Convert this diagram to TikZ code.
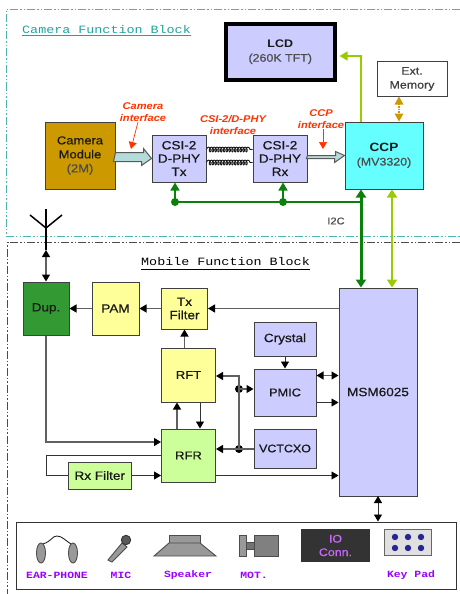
\documentclass[tikz,border=0pt]{standalone}
\usepackage{fontspec}
\setmainfont[FakeStretch=1.13,UprightFeatures={FakeBold=0.6}]{Liberation Sans}
\setmonofont[FakeStretch=1.2]{Liberation Mono}
\usetikzlibrary{arrows.meta,decorations.pathmorphing}
\definecolor{boxblue}{HTML}{CCCCFF}
\definecolor{boxyel}{HTML}{FFFF99}
\definecolor{boxgrn}{HTML}{CCFF99}
\definecolor{dupgrn}{HTML}{339933}
\definecolor{camgold}{HTML}{CC9900}
\definecolor{ccpcyan}{HTML}{66FFFF}
\definecolor{wire}{HTML}{606060}
\definecolor{dkgrn}{HTML}{0B800B}
\definecolor{ltgrn}{HTML}{99CC00}
\definecolor{teal1}{HTML}{1FA3A0}
\definecolor{redlab}{HTML}{FF3300}
\definecolor{purp}{HTML}{9900FF}
\definecolor{fatfill}{HTML}{B5DADA}
\definecolor{icongray}{HTML}{999999}
\definecolor{iotxt}{HTML}{CC66FF}
\newcommand{\blk}[7]{\node[blockbox,#6,minimum width=(#4-#2)*1pt,minimum height=(#5-#3)*1pt] (#1) at ({(#2+#4)/2},{(#3+#5)/2}) {#7};}
\tikzset{
  mytip/.tip={Triangle[length=7pt,width=8pt,black]},
  blockbox/.style={draw=black!75,line width=1pt,inner sep=0pt,align=center,text=black!90,font=\fontsize{12}{13.3}\selectfont},
  wr/.style={draw=wire,line width=1.3pt},
  ar/.style={wr,-{mytip}},
  ard/.style={wr,{mytip}-{mytip}},
  thinw/.style={draw=black!80,line width=0.9pt},
  tar/.style={thinw,-{mytip}},
  dot/.style={circle,fill=black,inner sep=0pt,minimum size=8pt},
  gdot/.style={circle,fill=dkgrn,inner sep=0pt,minimum size=8pt},
  redtxt/.style={text=redlab,font=\fontsize{9.8}{12}\selectfont\itshape\bfseries,align=center,inner sep=0pt},
  monolab/.style={font=\ttfamily\bfseries\fontsize{9.5}{12}\selectfont,text=purp,inner sep=0pt},
  title/.style={font=\ttfamily\fontsize{11.15}{14}\selectfont,inner sep=0pt},
  redar/.style={draw=redlab,line width=0.7pt,-{Triangle[length=7pt,width=8pt,redlab]}},
  coilw/.style={draw=black!90,line width=0.9pt,decorate,decoration={coil,aspect=0.6,segment length=2.8pt,amplitude=2.4pt}},
  fat/.style={draw=black!65,fill=fatfill,line width=1pt},
  icon/.style={draw=black!70,fill=icongray,line width=0.9pt},
  frame/.style={line width=0.9pt,dash pattern=on 8pt off 2pt on 1.5pt off 2pt on 1.5pt off 2pt},
}
\begin{document}
\begin{tikzpicture}[x=1pt,y=-1pt]
\useasboundingbox[fill=white] (0,0) rectangle (460,594);
% frames
\draw[frame,teal1!80] (460,9) -- (6.5,9) -- (6.5,236) -- (460,236);
\draw[frame,black!70] (460,242) -- (7.5,242) -- (7.5,594);
\node[title,text=teal1,anchor=west] (camtitle) at (22,30) {Camera Function Block};
\draw[teal1,line width=0.8pt] (camtitle.west |- 0,35) -- (camtitle.east |- 0,35);
\node[title,text=black,anchor=west] (mobtitle) at (141,262) {Mobile Function Block};
\draw[black,line width=0.8pt] (mobtitle.west |- 0,269) -- (mobtitle.east |- 0,269);
% camera blocks
\blk{cam}{45}{122}{115}{189}{fill=camgold,font=\fontsize{11.5}{14}\selectfont}{Camera\\Module\\{\color{black!70}(2M)}}
\blk{tx}{152}{135}{206}{182}{fill=boxblue}{CSI-2\\D-PHY\\Tx}
\blk{rx}{253}{135}{307}{182}{fill=boxblue}{CSI-2\\D-PHY\\Rx}
\blk{ccp}{345}{122}{423}{189}{fill=ccpcyan,font=\fontsize{11}{14}\selectfont}{\fontsize{12}{14}\selectfont\textbf{CCP}\\{\color{black!70}(MV3320)}}
\blk{lcd}{226}{24}{334.5}{80}{fill=boxblue,draw=black,line width=4pt,font=\fontsize{11}{14}\selectfont}{\textbf{LCD}\\{\color{black!70}(260K TFT)}}
\blk{ext}{377}{62}{447}{96}{fill=white,font=\fontsize{11}{14}\selectfont}{{\color{black!75}Ext.}\\{\color{black!75}Memory}}
% mobile blocks
\blk{dup}{23}{282}{69}{335}{fill=dupgrn}{Dup.}
\blk{pam}{92}{282}{139}{335}{fill=boxyel}{PAM}
\blk{txf}{161.5}{288}{207.5}{329}{fill=boxyel}{Tx\\Filter}
\blk{rft}{161.5}{348}{215.5}{402}{fill=boxyel,font=\fontsize{11.5}{13}\selectfont}{RFT}
\blk{rfr}{161.5}{429}{215.5}{482}{fill=boxgrn,font=\fontsize{11.5}{13}\selectfont}{RFR}
\blk{rxf}{68.5}{462}{131}{489}{fill=boxgrn}{Rx Filter}
\blk{cry}{254}{322}{316}{356}{fill=boxblue}{Crystal}
\blk{pmic}{254}{369}{316}{416}{fill=boxblue,font=\fontsize{11.3}{13}\selectfont}{PMIC}
\blk{vct}{254}{429}{316}{468}{fill=boxblue,font=\fontsize{11}{13}\selectfont}{VCTCXO}
\blk{msm}{339}{288}{417}{496}{fill=boxblue}{MSM6025}
% interface arrows
\draw[fat] ([yshift=3pt]cam.east) -- ++(28,0) -- ++(0,-4) -- (tx.west) -- ++(-10,7) -- ++(0,-4) -- ++(-28,0) -- cycle;
\draw[fat] ([yshift=3pt]rx.east) -- ++(28,0) -- ++(0,-4) -- (ccp.west) -- ++(-10,7) -- ++(0,-4) -- ++(-28,0) -- cycle;
% coils
\draw[coilw] ([yshift=9pt]tx.east) -- ([yshift=9pt]rx.west);
\draw[coilw] ([yshift=-4pt]tx.east) -- ([yshift=-4pt]rx.west);
% I2C
\coordinate (busR) at (361,202);
\node[gdot] (j1) at (175,202) {};
\node[gdot] (j2) at (283,202) {};
\draw[dkgrn,line width=1.6pt] (j1.center) -- (j2.center) -- (busR);
\draw[dkgrn,line width=1.6pt,-{Triangle[length=8pt,width=9pt,dkgrn]}] (j1.center) -- (j1.center |- tx.south);
\draw[dkgrn,line width=1.6pt,-{Triangle[length=8pt,width=9pt,dkgrn]}] (j2.center) -- (j2.center |- rx.south);
\coordinate (ccpb) at ([xshift=-23pt]ccp.south);
\draw[dkgrn,line width=3pt,{Triangle[length=8pt,width=10pt,dkgrn]}-{Triangle[length=8pt,width=10pt,dkgrn]}] (ccpb) -- (ccpb |- msm.north);
\coordinate (ccpc) at ([xshift=8pt]ccp.south);
\draw[ltgrn,line width=1.7pt,{Triangle[length=8pt,width=10pt,ltgrn]}-{Triangle[length=8pt,width=10pt,ltgrn]}] (ccpc) -- (ccpc |- msm.north);
\coordinate (ccpt) at ([xshift=-23pt]ccp.north);
\coordinate (lcdp) at ([xshift=3pt]lcd.east);
\draw[ltgrn,line width=1.6pt,-{Triangle[length=8pt,width=9pt,ltgrn]}] (ccpt) -- (ccpt |- 0,56) -- (lcdp |- 0,56);
\coordinate (ccpe) at ([xshift=15pt]ccp.north);
\draw[camgold,line width=1.4pt,densely dotted] ([yshift=-5pt]ccpe |- ext.south) -- ([yshift=5pt]ccpe);
\fill[camgold] (ccpe |- ext.south) -- ++(-4.5,8) -- ++(9,0) -- cycle;
\fill[camgold] (ccpe) -- ++(-4.5,-8) -- ++(9,0) -- cycle;
\node[inner sep=0pt,text=black!70,font=\fontsize{9.8}{11}\selectfont] (i2c) at (336,221) {I2C};
% red labels
\node[redtxt] (l1) at (143,112) {Camera\\interface};
\node[redtxt] (l2) at (233,125) {CSI-2/D-PHY\\interface};
\node[redtxt] (l3) at (321,119) {CCP\\interface};
\draw[redar] (138,122) -- (131,149);
\draw[redar] (323,129) -- (323,149);
% antenna
\coordinate (anttop) at (46,209);
\coordinate (antj) at (46,228);
\coordinate (antb) at (46,250);
\draw[black,line width=1.5pt] (30,215) -- (antj) -- (62,215);
\draw[black,line width=2pt] (anttop) -- (antb);
\draw[ard] (antb) -- (dup.north);
% mobile wires
\draw[ar] (pam) -- (dup);
\draw[ar] (txf.west |- pam) -- (pam);
\draw[ar] (msm.west |- txf) -- (txf);
\draw[ar] (rft.north -| txf) -- (txf);
\coordinate (ru) at ([xshift=-11.5pt]rft.south);
\coordinate (rd) at ([xshift=11.5pt]rft.south);
\draw[ar] (ru |- rfr.north) -- (ru);
\draw[tar] (rd) -- (rd |- rfr.north);
\coordinate (dr) at (46,442);
\draw[ar] (dup.south) -- (dr) -- (dr -| rfr.west);
\coordinate (loop1) at (46,455);
\coordinate (loop2) at (46,475.5);
\draw[thinw] (loop1 -| rfr.west) -- (loop1) -- (loop2) -- (rxf.west);
\draw[tar] (rxf.east) -- (rxf.east -| rfr.west);
\draw[tar] (rfr.east |- rxf.east) -- (msm.west |- rxf.east);
\node[dot] (j3) at (239,389) {};
\node[dot] (j4) at (239,449) {};
\coordinate (cn) at (239,376);
\draw[wr] (j4.center) -- (j3.center);
\draw[ar] (j3.center) -- (cn) -- (cn -| rft.east);
\draw[ar] (j3.center) -- (j3.center -| pmic.west);
\draw[ar] (j4.center) -- (j4.center -| rfr.east);
\draw[wr] (vct.west |- j4.center) -- (j4.center);
\draw[tar] (cry) -- (pmic.north -| cry);
\coordinate (pm1) at ([yshift=-7pt]pmic.north east);
\draw[ard] (pm1) -- (pm1 -| msm.west);
\coordinate (pm2) at (pmic.east |- 0,402.5);
\draw[tar] (pm2) -- (pm2 -| msm.west);
% bottom box
\node[draw=black!80,line width=1pt,minimum width=440pt,minimum height=67pt,inner sep=0pt] (bot) at (236,555.5) {};
\coordinate (mb) at (378,496);
\draw[thinw,{mytip}-{mytip}] (mb) -- (mb |- bot.north);
% icons
\draw[black!85,line width=0.9pt] (43,544) .. controls (52,541) and (52,536) .. (57,536) .. controls (62,536) and (66,541) .. (71,544);
\draw[icon] (41,553) ellipse [x radius=4.5,y radius=10];
\draw[icon] (73,553) ellipse [x radius=4.5,y radius=10];
\draw[icon] (122,543) -- (127,547) -- (112,562) -- (108,560) -- cycle;
\draw[black!80,fill=black!65,line width=0.9pt] (126,540) circle [radius=4.7];
\draw[icon] (169,535) rectangle (200,543);
\draw[icon] (154,556) -- (169,543) -- (200,543) -- (216,556) -- cycle;
\draw[icon] (239,535) rectangle (246,556);
\draw[icon,fill=black!55] (246,542) rectangle (254,549);
\draw[icon,fill=black!50] (254,535) rectangle (278,556);
\node[fill=black!80,minimum width=69pt,minimum height=33pt,inner sep=0pt,align=center,text=iotxt,font=\fontsize{11}{13.5}\selectfont] (io) at (335.5,545.5) {IO\\Conn.};
\node[draw=black!60,fill=black!12,line width=0.9pt,minimum width=47pt,minimum height=26pt,inner sep=0pt] (kp) at (408,542.5) {};
\foreach \kx in {395,408,421}\foreach \ky in {537,548}{\fill[blue!50!black!85] (\kx,\ky) circle [radius=3.2];}
\node[monolab] (e1) at (57,575) {EAR-PHONE};
\node[monolab] (e2) at (121,575) {MIC};
\node[monolab] (e3) at (188,575) {Speaker};
\node[monolab] (e4) at (254,575) {MOT.};
\node[monolab] (e5) at (411,575) {Key Pad};
\end{tikzpicture}
\end{document}
